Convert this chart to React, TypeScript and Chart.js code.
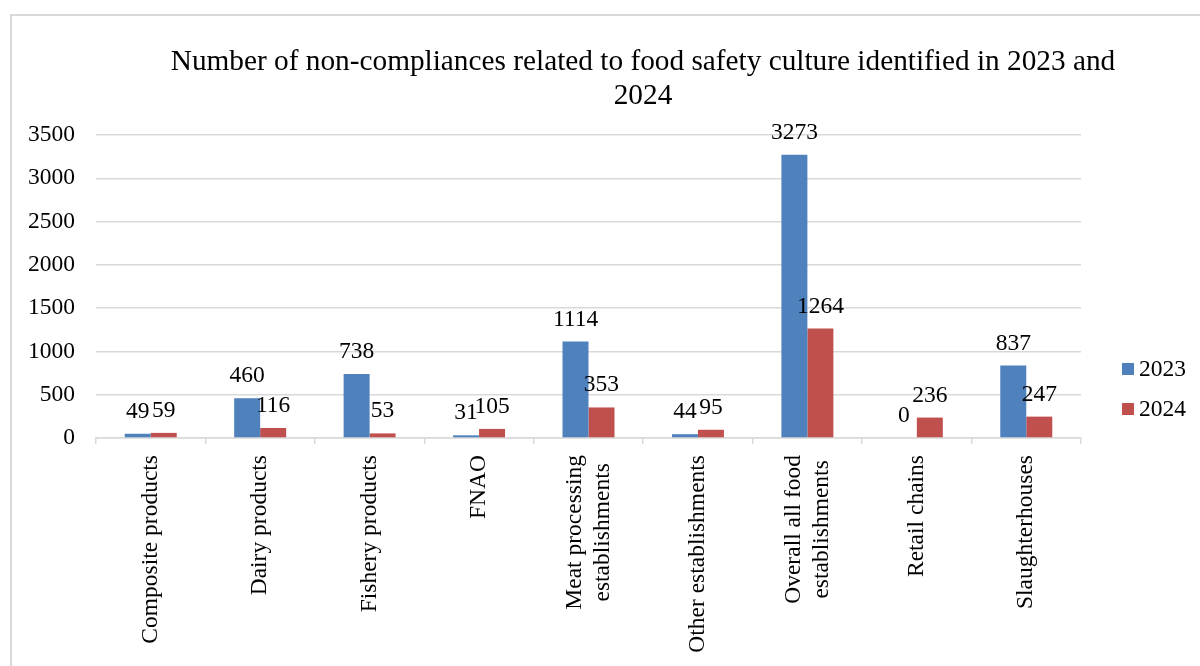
import React, { useEffect, useRef } from "react";
import { Chart, registerables } from "chart.js";

Chart.register(...registerables);

const categories: string[][] = [
  ["Composite products"],
  ["Dairy products"],
  ["Fishery products"],
  ["FNAO"],
  ["Meat processing", "establishments"],
  ["Other establishments"],
  ["Overall all food", "establishments"],
  ["Retail chains"],
  ["Slaughterhouses"],
];
const values2023 = [49, 460, 738, 31, 1114, 44, 3273, 0, 837];
const values2024 = [59, 116, 53, 105, 353, 95, 1264, 236, 247];
const seriesNames = ["2023", "2024"];
const titleLines = [
  "Number of non-compliances related to food safety culture identified in 2023 and",
  "2024",
];

const FONT = "'Liberation Serif', 'Times New Roman', serif";
const FS = 23.5;
const BLUE = "#4F81BD";
const RED = "#C0504D";
const GRID = "#D9D9D9";

const decorPlugin = {
  id: "decor",
  afterDatasetsDraw(chart: any) {
    const ctx = chart.ctx;
    ctx.save();
    ctx.font = `${FS}px ${FONT}`;
    ctx.fillStyle = "#000";
    ctx.textAlign = "center";
    ctx.textBaseline = "alphabetic";
    chart.data.datasets.forEach((ds: any, di: number) => {
      const meta = chart.getDatasetMeta(di);
      meta.data.forEach((el: any, i: number) => {
        ctx.fillText(String(ds.data[i]), el.x, el.y - 16);
      });
    });
    ctx.restore();
  },
  afterDraw(chart: any) {
    const ctx = chart.ctx;
    ctx.save();
    // x category labels, rotated, lines centred on each other
    const xs = chart.scales.x;
    const top = xs.top + 17;
    ctx.font = `${FS}px ${FONT}`;
    ctx.fillStyle = "#000";
    ctx.textBaseline = "middle";
    ctx.textAlign = "center";
    const lh = 28;
    categories.forEach((lines, i) => {
      const x = xs.getPixelForTick(i);
      const maxW = Math.max(...lines.map((l) => ctx.measureText(l).width));
      ctx.save();
      ctx.translate(x, top);
      ctx.rotate(-Math.PI / 2);
      lines.forEach((l, li) => {
        ctx.fillText(l, -maxW / 2, (li - (lines.length - 1) / 2) * lh);
      });
      ctx.restore();
    });
    // title
    ctx.font = `29.3px ${FONT}`;
    ctx.textAlign = "center";
    ctx.textBaseline = "middle";
    ctx.fillText(titleLines[0], 643, 62);
    ctx.fillText(titleLines[1], 643, 96);
    // legend
    const colors = [BLUE, RED];
    const ys = [369, 409];
    ctx.font = `${FS}px ${FONT}`;
    ctx.textAlign = "left";
    seriesNames.forEach((n, i) => {
      ctx.fillStyle = colors[i];
      ctx.fillRect(1122, ys[i] - 6, 12, 12);
      ctx.fillStyle = "#000";
      ctx.fillText(n, 1139, ys[i] + 1);
    });
    ctx.restore();
  },
};

export default function App() {
  const ref = useRef<HTMLCanvasElement>(null);
  useEffect(() => {
    if (!ref.current) return;
    const chart = new Chart(ref.current, {
      type: "bar",
      data: {
        labels: categories.map((c) => c.join(" ")),
        datasets: [
          { label: seriesNames[0], data: values2023, backgroundColor: BLUE, categoryPercentage: 0.475, barPercentage: 1 },
          { label: seriesNames[1], data: values2024, backgroundColor: RED, categoryPercentage: 0.475, barPercentage: 1 },
        ],
      },
      options: {
        animation: false,
        responsive: false,
        maintainAspectRatio: false,
        layout: { padding: { top: 135, right: 119, left: 0, bottom: 0 } },
        plugins: {
          legend: { display: false },
          title: { display: false },
          tooltip: { enabled: false },
        },
        scales: {
          x: {
            grid: { display: true, drawOnChartArea: false, color: GRID, tickLength: 6, offset: true, lineWidth: 1.5 },
            border: { display: true, color: GRID, width: 1.5 },
            ticks: {
              color: "rgba(0,0,0,0)",
              font: { family: FONT, size: 12 },
              maxRotation: 0,
              minRotation: 0,
              autoSkip: false,
            },
            afterFit: (s: any) => {
              s.height = 228;
            },
          },
          y: {
            min: 0,
            max: 3500,
            ticks: {
              stepSize: 500,
              color: "#000",
              font: { family: FONT, size: FS },
              padding: 21,
              callback: (v: any) => String(v),
            },
            grid: { color: GRID, drawTicks: false, lineWidth: 1.5 },
            border: { display: false },
            afterFit: (s: any) => {
              s.width = 96;
            },
          },
        },
      },
      plugins: [decorPlugin],
    });
    return () => chart.destroy();
  }, []);
  return (
    <div style={{ position: "absolute", left: 0, top: 0, width: 1200, height: 666, overflow: "hidden", background: "#fff" }}>
      <canvas ref={ref} width={1200} height={666} style={{ position: "absolute", left: 0, top: 0 }} />
      <div
        style={{
          position: "absolute",
          left: 10,
          top: 14,
          width: 1300,
          height: 800,
          border: "2px solid #D9D9D9",
          pointerEvents: "none",
        }}
      />
    </div>
  );
}
